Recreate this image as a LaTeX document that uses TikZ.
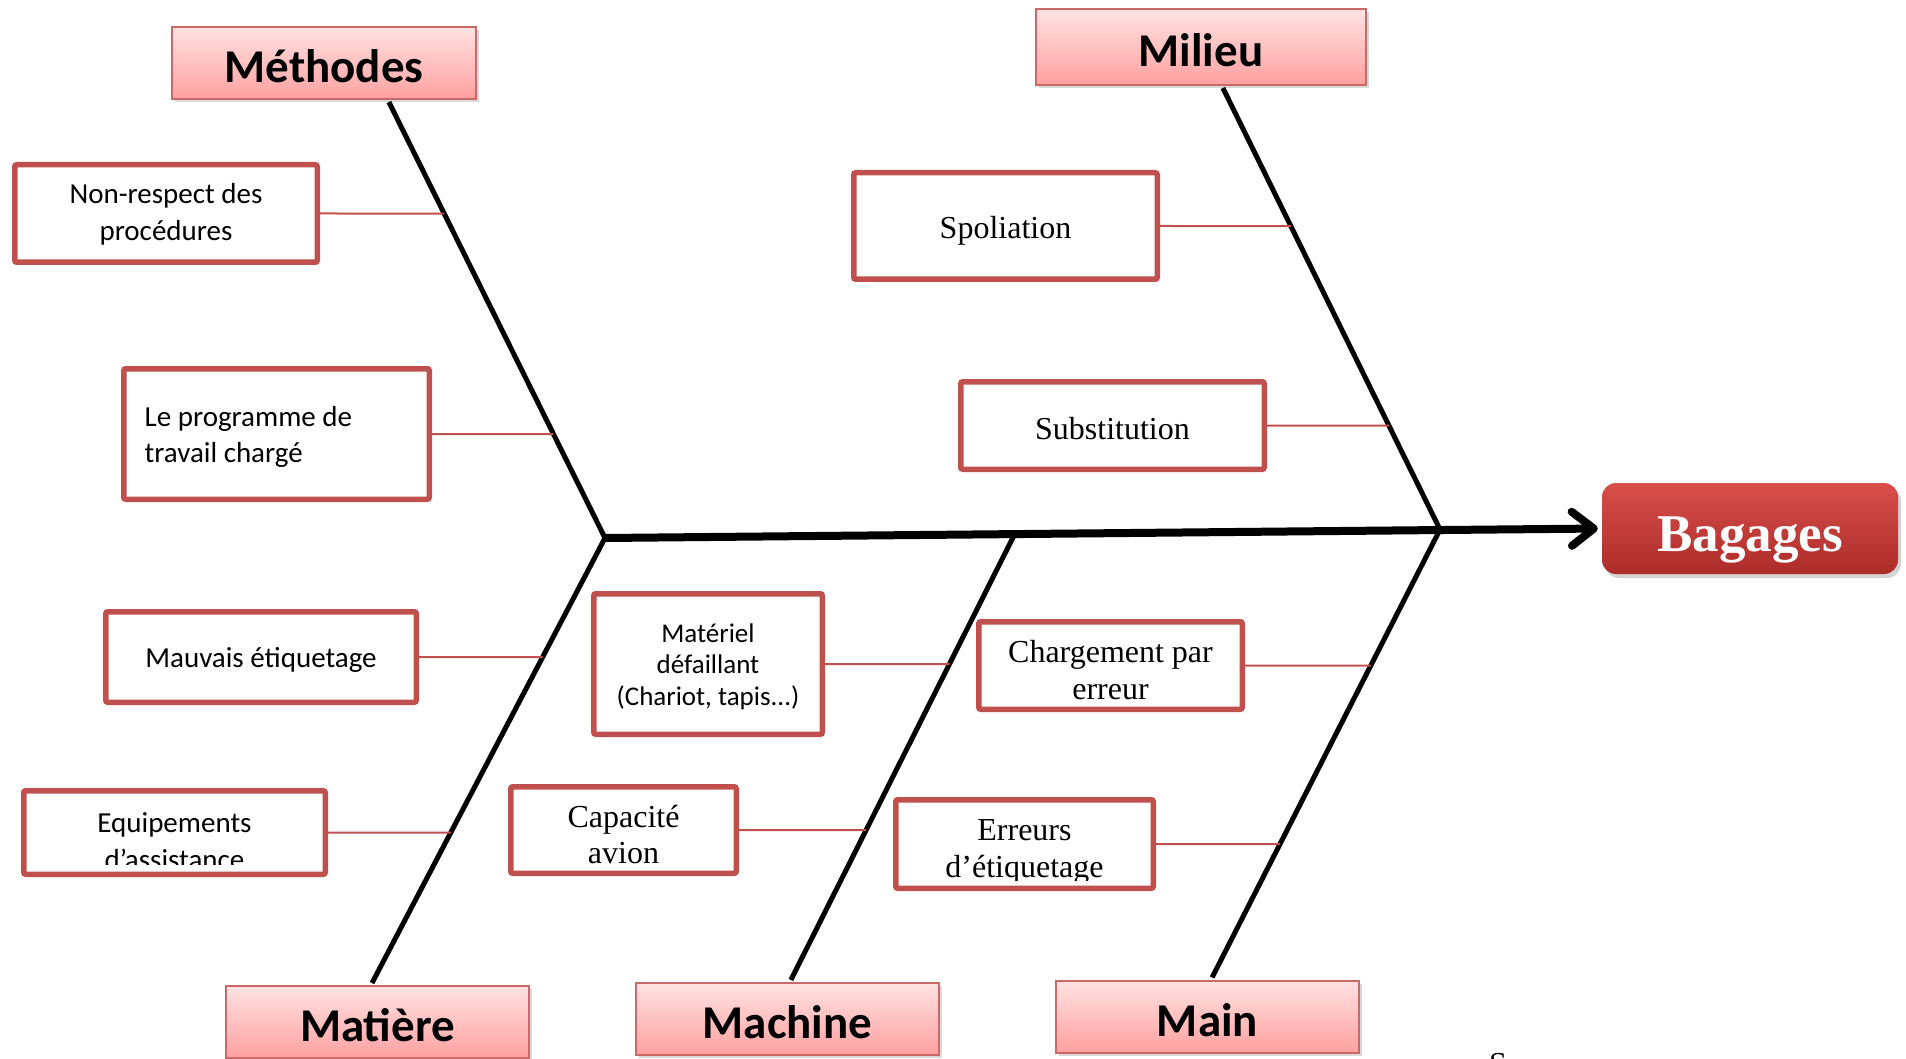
\documentclass[tikz,border=0pt]{standalone}
\usepackage{fontspec}
\setmainfont{Carlito}
\newfontfamily\serifface{Liberation Serif}
\usetikzlibrary{arrows.meta,shadows,calc}

\definecolor{boxred}{RGB}{192,80,77}
\definecolor{hdrtop}{RGB}{255,226,226}
\definecolor{hdrbot}{RGB}{255,160,160}
\definecolor{headtop}{RGB}{216,78,74}
\definecolor{headbot}{RGB}{172,44,42}

\begin{document}
\begin{tikzpicture}[x=1pt,y=-1pt,
  cat/.style={draw=boxred!85, line width=2pt, top color=hdrtop, bottom color=hdrbot,
    inner sep=0pt, text height=39pt, text depth=0pt,
    font=\fontsize{47}{56}\selectfont\bfseries,
    drop shadow={shadow xshift=3pt,shadow yshift=-3pt,opacity=0.3}},
  effect/.style={rounded corners=14pt, top color=headtop, bottom color=headbot,
    inner sep=0pt, text=white, text height=45pt, text depth=0pt,
    font=\serifface\bfseries\fontsize{53}{60}\selectfont,
    drop shadow={shadow xshift=3pt,shadow yshift=-4pt,opacity=0.35}},
  cause/.style={draw=boxred, line width=5.5pt, rounded corners=2pt, fill=white, inner sep=0pt},
  sanstxt/.style={font=\fontsize{29}{36.5}\selectfont, align=center, inner sep=0pt},
  smalltxt/.style={font=\fontsize{27}{31.6}\selectfont, align=center, inner sep=0pt},
  seriftxt/.style={font=\serifface\fontsize{32}{36.5}\selectfont, align=center, inner sep=0pt},
  bone/.style={line width=5pt},
  spinebone/.style={line width=8pt},
  twig/.style={draw=boxred, line width=2pt},
]
\path[use as bounding box] (0,0) rectangle (1906,1059);

% category headers
\node[cat, minimum width=304pt, minimum height=72pt] (methodes) at (324,63) {Méthodes};
\node[cat, minimum width=330pt, minimum height=76pt] (milieu) at (1201,47) {Milieu};
\node[cat, minimum width=303pt, minimum height=72pt] (matiere) at (377.5,1022) {Matière};
\node[cat, minimum width=303pt, minimum height=72pt] (machine) at (787.5,1019) {Machine};
\node[cat, minimum width=303pt, minimum height=72pt] (main) at (1207.5,1016.5) {Main};

% effect
\node[effect, minimum width=296pt, minimum height=91pt] (bagages) at (1750,528.5) {Bagages};

% skeleton of the fishbone
\coordinate (J1) at (605,538);
\coordinate (J2) at (1440,529.5);
\coordinate (mTop) at ($(methodes.south west)!0.712!(methodes.south east)+(0,2)$);
\coordinate (miTop) at ($(milieu.south west)!0.566!(milieu.south east)+(0,2)$);
\coordinate (maEnd) at ($(matiere.north west)!0.482!(matiere.north east)+(0,-2)$);
\coordinate (mcEnd) at ($(machine.north west)!0.511!(machine.north east)+(0,-2)$);
\coordinate (mnEnd) at ($(main.north west)!0.515!(main.north east)+(0,-2)$);
\coordinate (mcTop) at ($(J1)!0.411!(bagages.west)$);

\draw[spinebone, -{Straight Barb[length=22pt,width=34pt,line cap=round,line join=round]}, shorten >=4pt]
  (J1) -- (bagages.west);
\draw[bone] (mTop) -- (J1) -- (maEnd);
\draw[bone] (miTop) -- (J2) -- (mnEnd);
\draw[bone] (mcTop) -- (mcEnd);

% cause boxes
\node[cause, minimum width=302.5pt, minimum height=97.5pt] (nonresp) at (166,213.5) {};
\node[cause, minimum width=305.5pt, minimum height=130.5pt] (prog) at (276.5,434) {};
\node[cause, minimum width=310.5pt, minimum height=90.5pt] (mauvais) at (261,657) {};
\node[cause, minimum width=301.5pt, minimum height=83.5pt] (equip) at (174.5,832.5) {};
\node[cause, minimum width=303.5pt, minimum height=106.5pt] (spol) at (1005.5,226) {};
\node[cause, minimum width=303.5pt, minimum height=87.5pt] (subst) at (1112.5,425.5) {};
\node[cause, minimum width=228.5pt, minimum height=140.5pt] (materiel) at (708,664) {};
\node[cause, minimum width=263.5pt, minimum height=87.5pt] (charg) at (1110.5,665.5) {};
\node[cause, minimum width=225.5pt, minimum height=86.5pt] (capac) at (623.5,830) {};
\node[cause, minimum width=257.5pt, minimum height=88.5pt] (erreurs) at (1024.5,844) {};

% cause texts
\node[sanstxt] (nonresptxt) at ($(nonresp.center)+(0,1)$) {Non-respect des\\procédures};
\node[sanstxt, align=left, anchor=west] (progtxt) at ($(prog.west)+(23.5,3)$)
  {Le programme de\\travail chargé};
\node[sanstxt] (mauvaistxt) at ($(mauvais.center)+(0,3)$) {Mauvais étiquetage};
\begin{scope}
  \clip ([shift={(3,3)}]equip.north west) rectangle ([shift={(-3,-13)}]equip.south east);
  \node[sanstxt] (equiptxt) at (174.5,841) {Equipements\\d’assistance};
\end{scope}
\node[seriftxt] (spoltxt) at ($(spol.center)+(0,4.5)$) {Spoliation};
\node[seriftxt] (substtxt) at ($(subst.center)+(0,3)$) {Substitution};
\node[smalltxt] (materieltxt) at ($(materiel.center)+(0,2.5)$)
  {Matériel\\défaillant\\(Chariot, tapis...)};
\node[seriftxt] (chargtxt) at ($(charg.center)+(0,4.5)$) {Chargement par\\erreur};
\node[seriftxt] (capactxt) at ($(capac.center)+(0,4.5)$) {Capacité\\avion};
\begin{scope}
  \clip ([shift={(3,3)}]erreurs.north west) rectangle ([shift={(-3,-11)}]erreurs.south east);
  \node[seriftxt] (erreurstxt) at (1024.5,852) {Erreurs\\d’étiquetage};
\end{scope}

% twigs joining each cause to its bone
\draw[twig] (nonresp.east) -- (intersection of mTop--J1 and nonresp.west--nonresp.east);
\draw[twig] (prog.east) -- (intersection of mTop--J1 and prog.west--prog.east);
\draw[twig] (mauvais.east) -- (intersection of J1--maEnd and mauvais.west--mauvais.east);
\draw[twig] (equip.east) -- (intersection of J1--maEnd and equip.west--equip.east);
\draw[twig] (spol.east) -- (intersection of miTop--J2 and spol.west--spol.east);
\draw[twig] (subst.east) -- (intersection of miTop--J2 and subst.west--subst.east);
\draw[twig] (materiel.east) -- (intersection of mcTop--mcEnd and materiel.west--materiel.east);
\draw[twig] (capac.east) -- (intersection of mcTop--mcEnd and capac.west--capac.east);
\draw[twig] (charg.east) -- (intersection of J2--mnEnd and charg.west--charg.east);
\draw[twig] (erreurs.east) -- (intersection of J2--mnEnd and erreurs.west--erreurs.east);

% stray letter cut by the lower edge
\node[seriftxt, anchor=base] (stray) at (1498,1074) {S};
\end{tikzpicture}
\end{document}
